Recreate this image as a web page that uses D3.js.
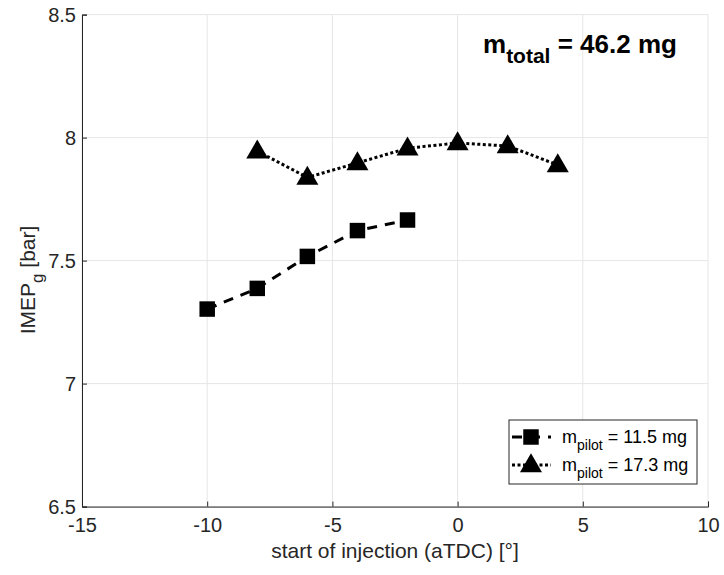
<!DOCTYPE html>
<html><head><meta charset="utf-8">
<script src="https://cdn.jsdelivr.net/npm/d3@7"></script>
<style>body{margin:0;background:#fff}</style>
</head><body>
<svg id="c" width="724" height="575"></svg>
<script>
const xTicks = [-15, -10, -5, 0, 5, 10];
const yTicks = [6.5, 7, 7.5, 8, 8.5];
const soiPilot1 = [-10, -8, -6, -4, -2];
const imepPilot1 = [7.303, 7.387, 7.517, 7.622, 7.665];
const soiPilot2 = [-8, -6, -4, -2, 0, 2, 4];
const imepPilot2 = [7.945, 7.838, 7.897, 7.957, 7.978, 7.966, 7.889];
const legendLabels = ["11.5", "17.3"];

const svg = d3.select("#c");
const x = d3.scaleLinear().domain([-15, 10]).range([82, 708]);
const y = d3.scaleLinear().domain([6.5, 8.5]).range([506.6, 14.6]);
const font = "Arial, 'Liberation Sans', sans-serif";
const tc = "#262626";

// grid
svg.append("g").selectAll("line").data(xTicks).join("line")
  .attr("x1", d => x(d)).attr("x2", d => x(d)).attr("y1", y(6.5)).attr("y2", y(8.5))
  .attr("stroke", "#e6e6e6").attr("stroke-width", 1);
svg.append("g").selectAll("line").data(yTicks).join("line")
  .attr("x1", x(-15)).attr("x2", x(10)).attr("y1", d => y(d)).attr("y2", d => y(d))
  .attr("stroke", "#e6e6e6").attr("stroke-width", 1);

// axes
const xa = svg.append("g").attr("transform", `translate(0,${y(6.5)})`)
  .call(d3.axisBottom(x).tickValues(xTicks).tickSize(-5).tickPadding(11).tickFormat(d => String(d)));
const ya = svg.append("g").attr("transform", `translate(${x(-15)},0)`)
  .call(d3.axisLeft(y).tickValues(yTicks).tickSize(-5).tickPadding(6).tickFormat(d => String(d)));
[xa, ya].forEach(a => {
  a.selectAll("path,line").attr("stroke", tc).attr("stroke-width", 1);
  a.selectAll("text").attr("fill", tc).style("font-family", font).style("font-size", "20px");
});

// lines
const line = d3.line().x(d => x(d[0])).y(d => y(d[1]));
const d1 = soiPilot1.map((s, i) => [s, imepPilot1[i]]);
const d2 = soiPilot2.map((s, i) => [s, imepPilot2[i]]);
svg.append("path").datum(d1).attr("d", line).attr("fill", "none")
  .attr("stroke", "#000").attr("stroke-width", 3).attr("stroke-dasharray", "10,8");
svg.append("path").datum(d2).attr("d", line).attr("fill", "none")
  .attr("stroke", "#000").attr("stroke-width", 3).attr("stroke-dasharray", "3,2.5");

const sq = d3.symbol().type(d3.symbolSquare).size(240);
const tri = d3.symbol().type(d3.symbolTriangle).size(210);
svg.append("g").selectAll("path").data(d1).join("path")
  .attr("d", sq).attr("transform", d => `translate(${x(d[0])},${y(d[1])})`).attr("fill", "#000");
svg.append("g").selectAll("path").data(d2).join("path")
  .attr("d", tri).attr("transform", d => `translate(${x(d[0])},${y(d[1])+1})`).attr("fill", "#000");

// title annotation
const t = svg.append("text").attr("x", 483).attr("y", 53)
  .style("font-family", font).style("font-size", "26px").style("font-weight", "bold").attr("fill", "#000");
t.append("tspan").text("m");
t.append("tspan").attr("dy", 10).style("font-size", "21px").text("total");
t.append("tspan").attr("dy", -10).text(" = 46.2 mg");

// axis labels
svg.append("text").attr("x", x(-2.5)).attr("y", 558).attr("text-anchor", "middle")
  .style("font-family", font).style("font-size", "21px").attr("fill", tc)
  .text("start of injection (aTDC) [°]");
const yl = svg.append("text").attr("transform", `translate(35,280) rotate(-90)`)
  .attr("text-anchor", "middle").style("font-family", font).style("font-size", "21px").attr("fill", tc);
yl.append("tspan").text("IMEP");
yl.append("tspan").attr("dy", 8).style("font-size", "17px").text("g");
yl.append("tspan").attr("dy", -8).text(" [bar]");

// legend
const lg = svg.append("g");
lg.append("rect").attr("x", 509).attr("y", 420).attr("width", 188).attr("height", 64)
  .attr("fill", "#fff").attr("stroke", "#262626").attr("stroke-width", 1);
const items = [
  {dash: "10,8", sym: sq, lbl: legendLabels[0]},
  {dash: "3,2.5", sym: tri, lbl: legendLabels[1]}
];
items.forEach((it, i) => {
  const cy = 437 + i * 28;
  lg.append("line").attr("x1", 512).attr("x2", 551).attr("y1", cy).attr("y2", cy)
    .attr("stroke", "#000").attr("stroke-width", 3).attr("stroke-dasharray", it.dash);
  lg.append("path").attr("d", it.sym).attr("transform", `translate(531,${cy + (i ? 1 : 0)})`).attr("fill", "#000");
  const tx = lg.append("text").attr("x", 562).attr("y", cy + 6)
    .style("font-family", font).style("font-size", "18px").attr("fill", "#000");
  tx.append("tspan").text("m");
  tx.append("tspan").attr("dy", 7).style("font-size", "14px").text("pilot");
  tx.append("tspan").attr("dy", -7).text(" = " + it.lbl + " mg");
});
</script>
</body></html>
